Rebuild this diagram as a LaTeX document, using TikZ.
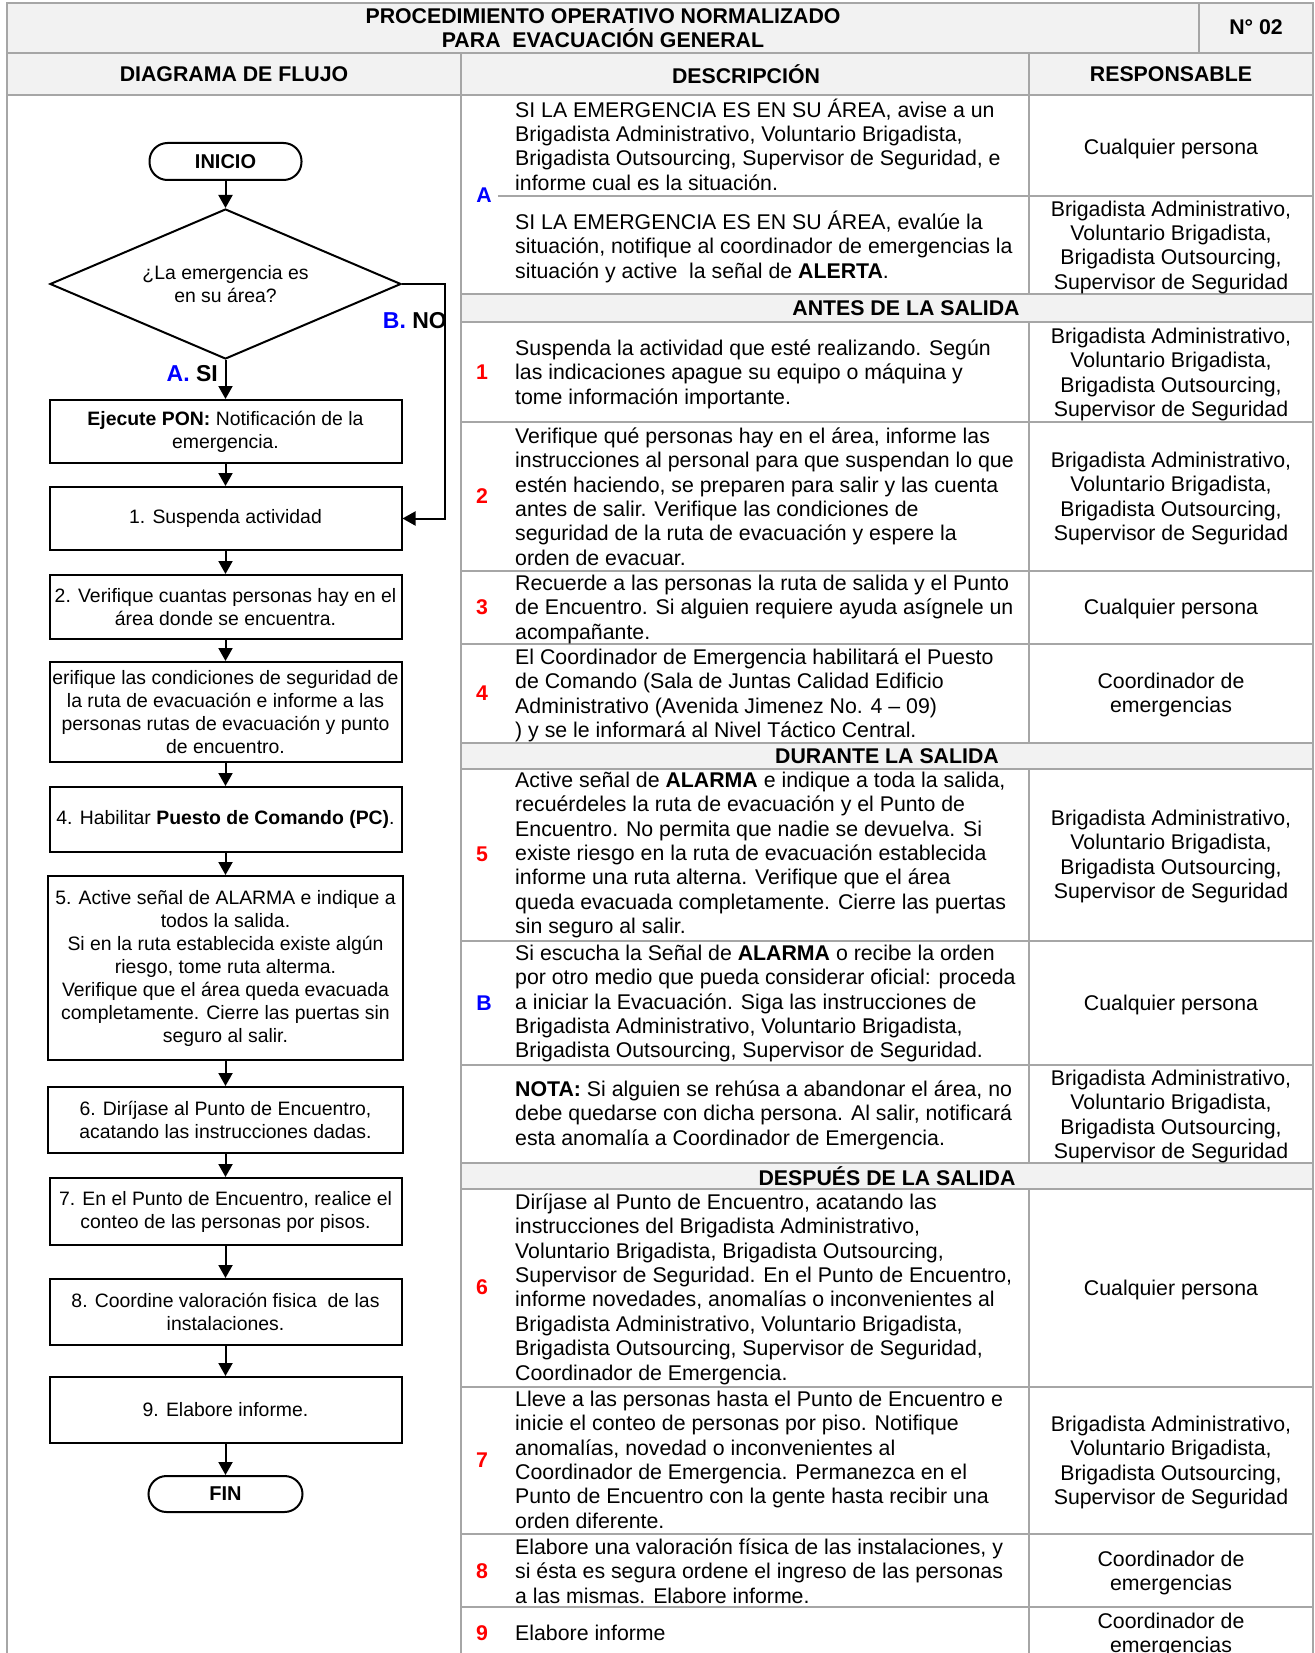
\documentclass[tikz,border=0pt]{standalone}
\usepackage{fontspec}
\setmainfont{Liberation Sans}
\usetikzlibrary{arrows.meta,shapes.geometric}
\definecolor{grid}{HTML}{A6A6A6}
\definecolor{band}{HTML}{F2F2F2}
\definecolor{lblue}{HTML}{0000FF}
\definecolor{lred}{HTML}{FF0000}
\newcommand\tstr{\rule{0pt}{20pt}}
\tikzset{
  fbox/.style={draw=black, line width=2pt, minimum width=352pt, inner sep=1pt, align=center, font=\fontsize{19.4}{23}\selectfont},
  term/.style={draw=black, line width=2pt, rounded corners=18pt, minimum height=37pt, font=\fontsize{20}{24}\selectfont\bfseries},
  arr/.style={line width=2pt, -{Triangle[width=14pt,length=13pt]}},
  desc/.style={anchor=north west, inner sep=0pt, align=left, font=\fontsize{21.3}{24.4}\selectfont},
  resp/.style={anchor=north, inner sep=0pt, align=center, font=\fontsize{21.3}{24.4}\selectfont},
  numb/.style={inner sep=0pt, font=\fontsize{21.3}{24}\selectfont\bfseries, text=lred},
  numa/.style={inner sep=0pt, font=\fontsize{21.3}{24}\selectfont\bfseries, text=lblue},
  hdr/.style={inner sep=0pt, align=center, font=\fontsize{21.3}{24.4}\selectfont\bfseries},
  gline/.style={draw=grid, line width=1.5pt},
  lbl/.style={inner sep=0pt, font=\fontsize{23}{26}\selectfont\bfseries},
}
\begin{document}
\begin{tikzpicture}[x=1pt,y=-1pt]
\useasboundingbox (0,0) rectangle (1314,1653);
% ---- fills
\fill[band] (7,3) rectangle (1313,95);
\fill[band] (461,294) rectangle (1313,322);
\fill[band] (461,743) rectangle (1313,769);
\fill[band] (461,1163) rectangle (1313,1189);
% ---- grid lines
\draw[gline] (7,1660) -- (7,3) -- (1313,3) -- (1313,1660);
\draw[gline] (7,53) -- (1313,53);
\draw[gline] (7,95) -- (1313,95);
\draw[gline] (1199,3) -- (1199,53);
\draw[gline] (461,53) -- (461,1660);
\draw[gline] (1029,53) -- (1029,294);
\draw[gline] (1029,322) -- (1029,743);
\draw[gline] (1029,769) -- (1029,1163);
\draw[gline] (1029,1189) -- (1029,1660);
\draw[gline] (498,196) -- (1313,196);
\foreach \yy in {294,322,422,571,644,743,769,941,1065,1163,1189,1387,1534,1607}
  \draw[gline] (461,\yy) -- (1313,\yy);
% ---- headers
\node[hdr] (title) at (603,28) {PROCEDIMIENTO OPERATIVO NORMALIZADO\\PARA\ \ EVACUACIÓN GENERAL};
\node[hdr] (numdoc) at (1256,27) {N° 02};
\node[hdr] (h1) at (234,74) {DIAGRAMA DE FLUJO};
\node[hdr] (h2) at (746,74) {DESCRIPCIÓN};
\node[hdr] (h3) at (1171,74) {RESPONSABLE};
\node[hdr] (s1) at (906,308) {ANTES DE LA SALIDA};
\node[hdr] (s2) at (887,756) {DURANTE LA SALIDA};
\node[hdr] (s3) at (887,1176) {DESPUÉS DE LA SALIDA};
% ---- numbers
\node[numa] (nA) at (484,195) {A};
\node[numb] (n1) at (482,372) {1};
\node[numb] (n2) at (482,496) {2};
\node[numb] (n3) at (482,607) {3};
\node[numb] (n4) at (482,693) {4};
\node[numb] (n5) at (482,854) {5};
\node[numa] (nB) at (484,1003) {B};
\node[numb] (n6) at (482,1287) {6};
\node[numb] (n7) at (482,1460) {7};
\node[numb] (n8) at (482,1571) {8};
\node[numb] (n9) at (482,1633) {9};
% ---- descriptions
\node[desc] (dA1) at (515,97) {\tstr SI LA EMERGENCIA ES EN SU ÁREA, avise a un\\Brigadista Administrativo, Voluntario Brigadista,\\Brigadista Outsourcing, Supervisor de Seguridad, e\\informe cual es la situación.};
\node[desc] (dA2) at (515,209) {\tstr SI LA EMERGENCIA ES EN SU ÁREA, evalúe la\\situación, notifique al coordinador de emergencias la\\situación y active\ \ la señal de \textbf{ALERTA}.};
\node[desc] (d1) at (515,335) {\tstr Suspenda la actividad que esté realizando. Según\\las indicaciones apague su equipo o máquina y\\tome información importante.};
\node[desc] (d2) at (515,423) {\tstr Verifique qué personas hay en el área, informe las\\instrucciones al personal para que suspendan lo que\\estén haciendo, se preparen para salir y las cuenta\\antes de salir. Verifique las condiciones de\\seguridad de la ruta de evacuación y espere la\\orden de evacuar.};
\node[desc] (d3) at (515,570) {\tstr Recuerde a las personas la ruta de salida y el Punto\\de Encuentro. Si alguien requiere ayuda asígnele un\\acompañante.};
\node[desc] (d4) at (515,644) {\tstr El Coordinador de Emergencia habilitará el Puesto\\de Comando (Sala de Juntas Calidad Edificio\\Administrativo (Avenida Jimenez No. 4 – 09)\\) y se le informará al Nivel Táctico Central.};
\node[desc] (d5) at (515,767) {\tstr Active señal de \textbf{ALARMA} e indique a toda la salida,\\recuérdeles la ruta de evacuación y el Punto de\\Encuentro. No permita que nadie se devuelva. Si\\existe riesgo en la ruta de evacuación establecida\\informe una ruta alterna. Verifique que el área\\queda evacuada completamente. Cierre las puertas\\sin seguro al salir.};
\node[desc] (dB) at (515,940) {\tstr Si escucha la Señal de \textbf{ALARMA} o recibe la orden\\por otro medio que pueda considerar oficial: proceda\\a iniciar la Evacuación. Siga las instrucciones de\\Brigadista Administrativo, Voluntario Brigadista,\\Brigadista Outsourcing, Supervisor de Seguridad.};
\node[desc] (dN) at (515,1076) {\tstr \textbf{NOTA:} Si alguien se rehúsa a abandonar el área, no\\debe quedarse con dicha persona. Al salir, notificará\\esta anomalía a Coordinador de Emergencia.};
\node[desc] (d6) at (515,1189) {\tstr Diríjase al Punto de Encuentro, acatando las\\instrucciones del Brigadista Administrativo,\\Voluntario Brigadista, Brigadista Outsourcing,\\Supervisor de Seguridad. En el Punto de Encuentro,\\informe novedades, anomalías o inconvenientes al\\Brigadista Administrativo, Voluntario Brigadista,\\Brigadista Outsourcing, Supervisor de Seguridad,\\Coordinador de Emergencia.};
\node[desc] (d7) at (515,1386) {\tstr Lleve a las personas hasta el Punto de Encuentro e\\inicie el conteo de personas por piso. Notifique\\anomalías, novedad o inconvenientes al\\Coordinador de Emergencia. Permanezca en el\\Punto de Encuentro con la gente hasta recibir una\\orden diferente.};
\node[desc] (d8) at (515,1534) {\tstr Elabore una valoración física de las instalaciones, y\\si ésta es segura ordene el ingreso de las personas\\a las mismas. Elabore informe.};
\node[desc] (d9) at (515,1620) {\tstr Elabore informe};
% ---- responsables
\node[resp] (rA1) at (1171,134) {\tstr Cualquier persona};
\node[resp] (rA2) at (1171,196) {\tstr Brigadista Administrativo,\\Voluntario Brigadista,\\Brigadista Outsourcing,\\Supervisor de Seguridad};
\node[resp] (r1) at (1171,323) {\tstr Brigadista Administrativo,\\Voluntario Brigadista,\\Brigadista Outsourcing,\\Supervisor de Seguridad};
\node[resp] (r2) at (1171,447) {\tstr Brigadista Administrativo,\\Voluntario Brigadista,\\Brigadista Outsourcing,\\Supervisor de Seguridad};
\node[resp] (r3) at (1171,594) {\tstr Cualquier persona};
\node[resp] (r4) at (1171,668) {\tstr Coordinador de\\emergencias};
\node[resp] (r5) at (1171,805) {\tstr Brigadista Administrativo,\\Voluntario Brigadista,\\Brigadista Outsourcing,\\Supervisor de Seguridad};
\node[resp] (rB) at (1171,990) {\tstr Cualquier persona};
\node[resp] (rN) at (1171,1065) {\tstr Brigadista Administrativo,\\Voluntario Brigadista,\\Brigadista Outsourcing,\\Supervisor de Seguridad};
\node[resp] (r6) at (1171,1275) {\tstr Cualquier persona};
\node[resp] (r7) at (1171,1411) {\tstr Brigadista Administrativo,\\Voluntario Brigadista,\\Brigadista Outsourcing,\\Supervisor de Seguridad};
\node[resp] (r8) at (1171,1546) {\tstr Coordinador de\\emergencias};
\node[resp] (r9) at (1171,1608) {\tstr Coordinador de\\emergencias};
% ---- flowchart
\node[term, minimum width=152pt] (ini) at (225.5,161.5) {INICIO};
\node[diamond, draw=black, line width=2pt, aspect=2.34, inner sep=0pt, minimum width=351pt, minimum height=150pt, align=center, font=\fontsize{19.4}{23}\selectfont] (dec) at (225.5,284) {¿La emergencia es\\en su área?};
\node[fbox, minimum height=63pt] (pon) at (225.5,431.5) {\textbf{Ejecute PON:} Notificación de la\\emergencia.};
\node[fbox, minimum height=63pt] (b1) at (225.5,518.5) {1. Suspenda actividad};
\node[fbox, minimum height=64pt] (b2) at (225.5,607) {2. Verifique cuantas personas hay en el\\área donde se encuentra.};
\node[fbox, minimum height=100pt] (b3) at (225.5,712) {erifique las condiciones de seguridad de\\la ruta de evacuación e informe a las\\personas rutas de evacuación y punto\\de encuentro.};
\node[fbox, minimum height=65pt] (b4) at (225.5,819.5) {4. Habilitar \textbf{Puesto de Comando (PC)}.};
\node[fbox, minimum width=355pt, minimum height=184pt] (b5) at (225.5,968) {5. Active señal de ALARMA e indique a\\todos la salida.\\Si en la ruta establecida existe algún\\riesgo, tome ruta alterma.\\Verifique que el área queda evacuada\\completamente. Cierre las puertas sin\\seguro al salir.};
\node[fbox, minimum width=355pt, minimum height=66pt] (b6) at (225.5,1120) {6. Diríjase al Punto de Encuentro,\\acatando las instrucciones dadas.};
\node[fbox, minimum height=67pt] (b7) at (225.5,1211.5) {7. En el Punto de Encuentro, realice el\\conteo de las personas por pisos.};
\node[fbox, minimum height=66pt] (b8) at (225.5,1312) {8. Coordine valoración fisica\ \ de las\\instalaciones.};
\node[fbox, minimum height=66pt] (b9) at (225.5,1410) {9. Elabore informe.};
\node[term, minimum width=154pt, minimum height=36pt] (fin) at (225.5,1494) {FIN};
% arrows
\draw[arr] (ini) -- (dec);
\draw[arr] (dec) -- (pon);
\draw[arr] (pon) -- (b1);
\draw[arr] (b1) -- (b2);
\draw[arr] (b2) -- (b3);
\draw[arr] (b3) -- (b4);
\draw[arr] (b4) -- (b5);
\draw[arr] (b5) -- (b6);
\draw[arr] (b6) -- (b7);
\draw[arr] (b7) -- (b8);
\draw[arr] (b8) -- (b9);
\draw[arr] (b9) -- (fin);
\draw[arr] (dec.east) -- ++(43,0) |- (b1.east);
% labels
\node[lbl, anchor=east] (lsi) at (218,374) {\textcolor{lblue}{A.} SI};
\node[lbl, anchor=east] (lno) at (447,321) {\textcolor{lblue}{B.} NO};
\end{tikzpicture}
\end{document}
